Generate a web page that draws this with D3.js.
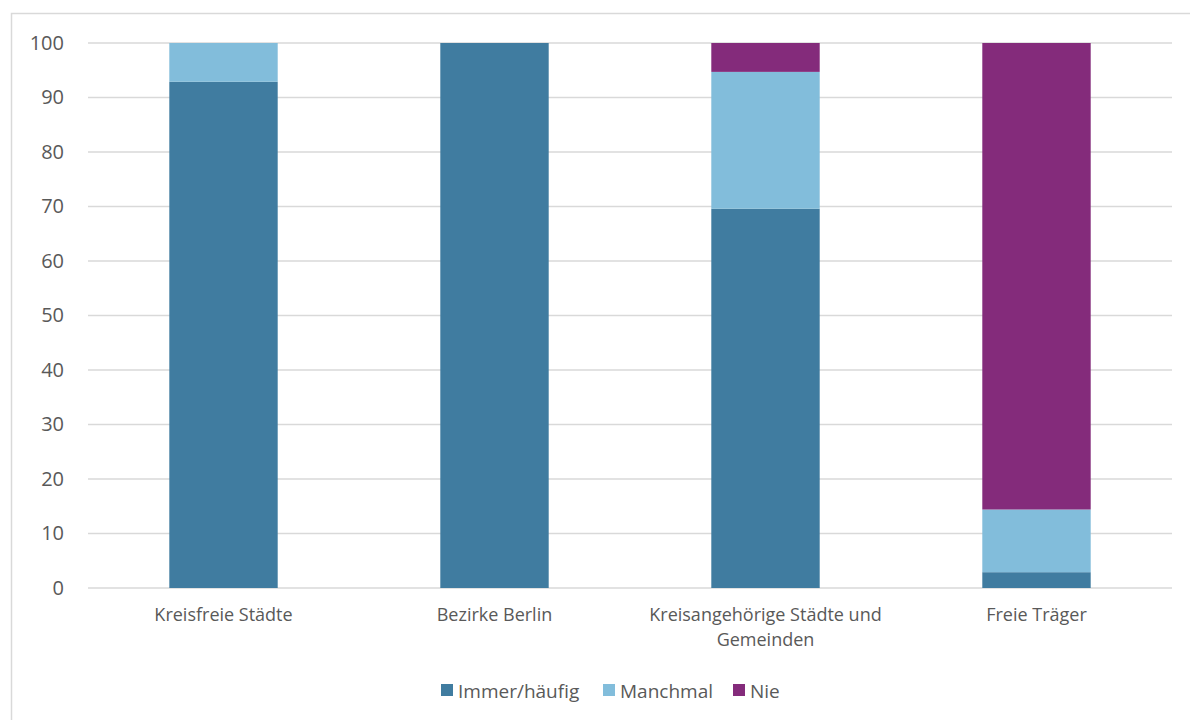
<!DOCTYPE html>
<html><head><meta charset="utf-8">
<script src="https://cdn.jsdelivr.net/npm/d3@7"></script>
<style>body{margin:0;background:#fff;}svg{display:block;}</style>
</head><body>
<svg id="chart" width="1190" height="720"></svg>
<script>
const categories = ["Kreisfreie Städte", "Bezirke Berlin", "Kreisangehörige Städte und Gemeinden", "Freie Träger"];
const seriesNames = ["Immer/häufig", "Manchmal", "Nie"];
const immer = [92.9, 100, 69.6, 2.9];
const manchmal = [7.1, 0, 25.1, 11.5];
const nie = [0, 0, 5.3, 85.6];
const yTicks = [0, 10, 20, 30, 40, 50, 60, 70, 80, 90, 100];
const colors = ["#407ca0", "#82bddb", "#842b7b"];

(function () {
const svg = d3.select("#chart");
const font = "'Open Sans', Lato, sans-serif";
const textColor = "#595959";

svg.append("rect").attr("x", 11.5).attr("y", 13.5).attr("width", 1190).attr("height", 720)
  .attr("fill", "none").attr("stroke", "#d9d9d9").attr("stroke-width", 1.5);

const mLeft = 88, mRight = 1172, mTop = 43, mBottom = 588;
const x = d3.scaleBand().domain(categories).range([mLeft, mRight]).padding(0);
const y = d3.scaleLinear().domain([0, 100]).range([mBottom, mTop]);

svg.append("g").selectAll("line").data(yTicks).join("line")
  .attr("x1", mLeft).attr("x2", mRight)
  .attr("y1", d => y(d)).attr("y2", d => y(d))
  .attr("stroke", "#d9d9d9").attr("stroke-width", 1.5);

const yAxis = d3.axisLeft(y).tickValues(yTicks).tickSize(0).tickPadding(0);
const gy = svg.append("g").attr("transform", `translate(${mLeft - 24},0)`).call(yAxis);
gy.select(".domain").remove();
gy.selectAll("text").attr("font-family", font).attr("font-size", 20).attr("fill", textColor);

const rows = categories.map((c, i) => ({cat: c, "Immer/häufig": immer[i], "Manchmal": manchmal[i], "Nie": nie[i]}));
const stack = d3.stack().keys(seriesNames)(rows);
const barW = x.bandwidth() * 0.4;

svg.append("g").selectAll("g").data(stack).join("g")
  .attr("fill", (d, i) => colors[i])
  .selectAll("rect").data(d => d).join("rect")
  .attr("x", d => x(d.data.cat) + (x.bandwidth() - barW) / 2)
  .attr("width", barW)
  .attr("y", d => y(d[1]))
  .attr("height", d => y(d[0]) - y(d[1]));

const xl = svg.append("g");
const wrapped = {"Kreisangehörige Städte und Gemeinden": ["Kreisangehörige Städte und", "Gemeinden"]};
categories.forEach(c => {
  const lines = wrapped[c] || [c];
  const cx = x(c) + x.bandwidth() / 2;
  const t = xl.append("text").attr("x", cx).attr("y", 621)
    .attr("text-anchor", "middle").attr("font-family", font).attr("font-size", 18).attr("fill", textColor);
  lines.forEach((l, i) => t.append("tspan").attr("x", cx).attr("dy", i === 0 ? 0 : 25).text(l));
});

const legend = svg.append("g").attr("transform", "translate(441,691)");
const legendX = [0, 162, 292];
seriesNames.forEach((s, i) => {
  const g = legend.append("g").attr("transform", `translate(${legendX[i]},0)`);
  g.append("rect").attr("x", 0).attr("y", -7).attr("width", 12).attr("height", 12).attr("fill", colors[i]);
  g.append("text").attr("x", 17).attr("y", 0).attr("dy", "0.35em").attr("font-family", font)
    .attr("font-size", 19).attr("fill", textColor).text(s);
});
})();
</script>
</body></html>
